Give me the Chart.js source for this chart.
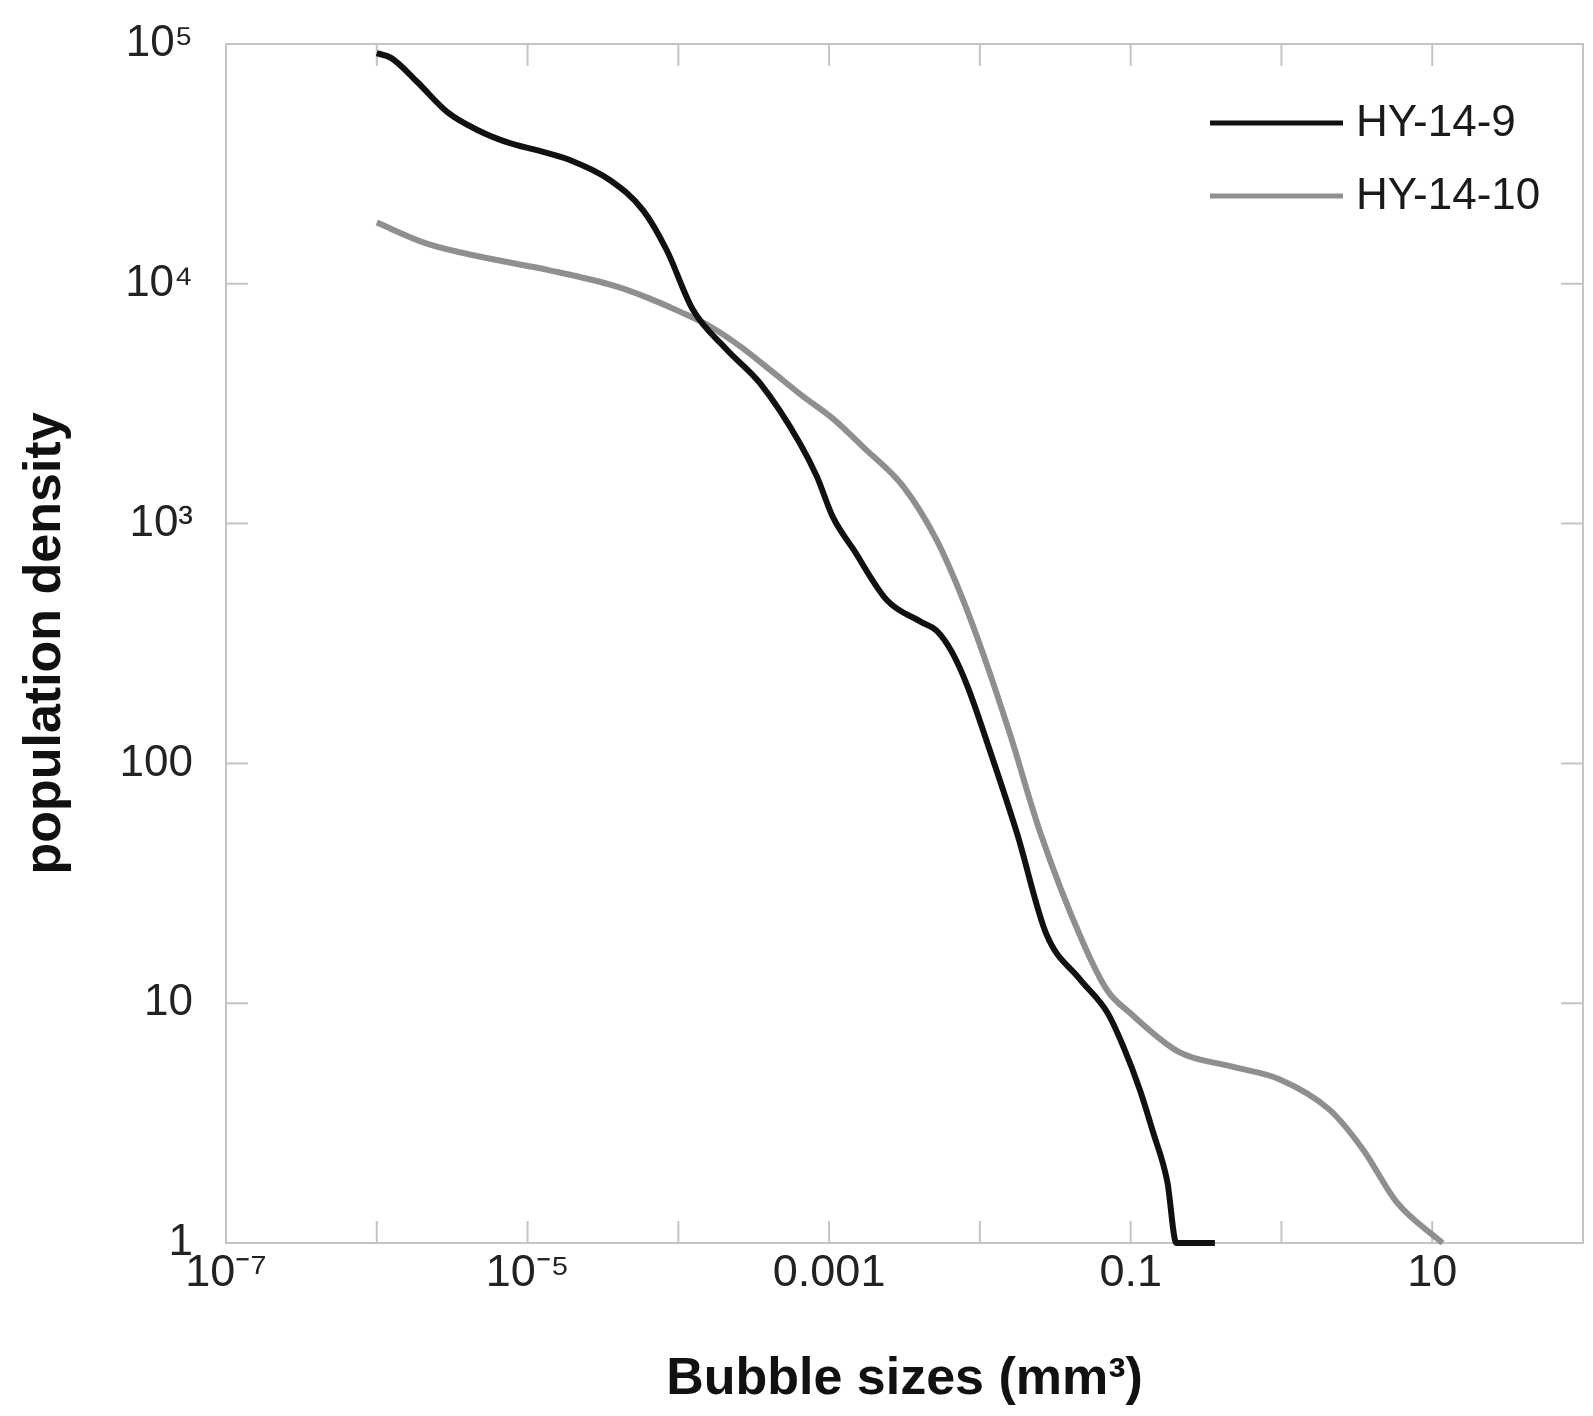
<!DOCTYPE html>
<html><head><meta charset="utf-8">
<script src="https://cdn.jsdelivr.net/npm/chart.js@4.4.1/dist/chart.umd.min.js"></script>
<style>html,body{margin:0;padding:0;background:#fff;} canvas{display:block;}</style>
</head><body>
<canvas id="c" width="1593" height="1416"></canvas>
<script>
const seriesNames = ['HY-14-9', 'HY-14-10'];
const hy9Size = [1.0e-6, 1.25e-6, 1.85e-6, 2.94e-6, 4.68e-6, 7.45e-6, 1.19e-5, 1.89e-5, 3.51e-5, 5.86e-5, 8.38e-5, 1.25e-4, 2.09e-4, 3.48e-4, 6.38e-4, 8.30e-4, 1.06e-3, 1.45e-3, 2.42e-3, 4.04e-3, 5.18e-3, 6.53e-3, 8.24e-3, 1.16e-2, 1.76e-2, 2.76e-2, 4.60e-2, 7.00e-2, 8.97e-2, 0.115, 0.141, 0.175, 0.201, 0.362];
const hy9Density = [91600, 87300, 69600, 52000, 43700, 38800, 35900, 32900, 27100, 20200, 13800, 7790, 5320, 3850, 2170, 1570, 1064, 780, 479, 390, 357, 291, 211, 114, 51.3, 19.4, 12.6, 9.14, 6.56, 4.36, 2.89, 1.80, 1, 1];
const hy10Size = [1.0e-6, 2.15e-6, 5.06e-6, 1.38e-5, 3.92e-5, 6.53e-5, 1.04e-4, 1.66e-4, 2.64e-4, 4.20e-4, 6.68e-4, 1.06e-3, 1.69e-3, 3.10e-3, 5.18e-3, 7.75e-3, 1.06e-2, 1.58e-2, 2.52e-2, 4.83e-2, 7.00e-2, 9.84e-2, 0.210, 0.457, 0.977, 2.09, 3.48, 5.81, 11.7];
const hy10Density = [18000, 14700, 12900, 11400, 9730, 8650, 7620, 6590, 5420, 4300, 3400, 2740, 2080, 1430, 851, 479, 282, 133, 51.3, 17.9, 11.3, 9.14, 6.25, 5.46, 4.81, 3.59, 2.45, 1.48, 1.0];
const xTickValues = [1e-7, 1e-6, 1e-5, 1e-4, 1e-3, 1e-2, 1e-1, 1, 10, 100];
const xTickLabels = ['10\u207B\u2077', '', '10\u207B\u2075', '', '0.001', '', '0.1', '', '10', ''];
const yTickValues = [1, 10, 100, 1000, 10000, 100000];
const yTickLabels = ['1', '10', '100', '10\u00B3', '10\u2074', '10\u2075'];
const xTitle = 'Bubble sizes (mm\u00B3)';
const yTitle = 'population density';

const FONT = '"Liberation Sans", Arial, Helvetica, sans-serif';
const FRAME = '#c4c4c4';

function pts(xs, ys) { return xs.map((x, i) => ({ x: x, y: ys[i] })); }

const framePlugin = {
  id: 'frame',
  beforeDatasetsDraw(chart) {
    const { ctx, chartArea: a, scales } = chart;
    ctx.save();
    ctx.strokeStyle = FRAME;
    ctx.lineWidth = 2;
    ctx.strokeRect(a.left, a.top, a.right - a.left, a.bottom - a.top);
    const L = 22;
    ctx.beginPath();
    scales.x.ticks.forEach(t => {
      const px = scales.x.getPixelForValue(t.value);
      if (px <= a.left + 1 || px >= a.right - 1) return;
      ctx.moveTo(px, a.bottom); ctx.lineTo(px, a.bottom - L);
      ctx.moveTo(px, a.top); ctx.lineTo(px, a.top + L);
    });
    scales.y.ticks.forEach(t => {
      const py = scales.y.getPixelForValue(t.value);
      if (py <= a.top + 1 || py >= a.bottom - 1) return;
      ctx.moveTo(a.left, py); ctx.lineTo(a.left + L, py);
      ctx.moveTo(a.right, py); ctx.lineTo(a.right - L, py);
    });
    ctx.stroke();
    ctx.restore();
  }
};

const legendPlugin = {
  id: 'customLegend',
  afterDatasetsDraw(chart) {
    const { ctx } = chart;
    const rows = [{ ly: 123, ty: 124 }, { ly: 196, ty: 197 }];
    ctx.save();
    chart.data.datasets.forEach((ds, i) => {
      const r = rows[i];
      ctx.strokeStyle = ds.borderColor;
      ctx.lineWidth = 5;
      ctx.beginPath();
      ctx.moveTo(1210, r.ly); ctx.lineTo(1343, r.ly);
      ctx.stroke();
      ctx.fillStyle = '#1a1a1a';
      ctx.font = '44px ' + FONT;
      ctx.textBaseline = 'middle';
      ctx.textAlign = 'left';
      ctx.fillText(ds.label, 1356, r.ty);
    });
    ctx.restore();
  }
};

new Chart(document.getElementById('c'), {
  type: 'scatter',
  data: {
    datasets: [
      { label: seriesNames[0], data: pts(hy9Size, hy9Density), showLine: true, borderColor: '#111111', borderWidth: 6, pointRadius: 0, cubicInterpolationMode: 'monotone', clip: false },
      { label: seriesNames[1], data: pts(hy10Size, hy10Density), showLine: true, borderColor: '#8f8f8f', borderWidth: 6, pointRadius: 0, cubicInterpolationMode: 'monotone', clip: false }
    ]
  },
  options: {
    responsive: false,
    animation: false,
    devicePixelRatio: 1,
    layout: { padding: { left: 0, top: 44, right: 10, bottom: 0 } },
    plugins: { legend: { display: false }, tooltip: { enabled: false } },
    scales: {
      x: {
        type: 'logarithmic', min: 1e-7, max: 100,
        afterBuildTicks: s => { s.ticks = xTickValues.map(v => ({ value: v })); },
        afterFit: s => { s.height = 173; },
        grid: { display: false, drawTicks: false },
        border: { display: false },
        ticks: { autoSkip: false, maxRotation: 0, padding: 4, color: '#222', font: { family: FONT, size: 45 },
          callback: (v, i) => xTickLabels[i] },
        title: { display: true, text: xTitle, color: '#111', font: { family: FONT, size: 52, weight: 'bold', lineHeight: 1 }, padding: { top: 10, bottom: 10 } }
      },
      y: {
        type: 'logarithmic', min: 1, max: 100000,
        afterBuildTicks: s => { s.ticks = yTickValues.map(v => ({ value: v })); },
        afterFit: s => { s.width = 226; },
        grid: { display: true, drawOnChartArea: false, drawTicks: true, tickLength: 28, tickColor: 'rgba(0,0,0,0)', color: 'rgba(0,0,0,0)' },
        border: { display: false },
        ticks: { autoSkip: false, padding: 5, color: '#222', font: { family: FONT, size: 44 },
          callback: (v, i) => yTickLabels[i] },
        title: { display: true, text: yTitle, color: '#111', font: { family: FONT, size: 52, weight: 'bold', lineHeight: 1 }, padding: { top: 20, bottom: 20 } }
      }
    }
  },
  plugins: [framePlugin, legendPlugin]
});
</script>
</body></html>
